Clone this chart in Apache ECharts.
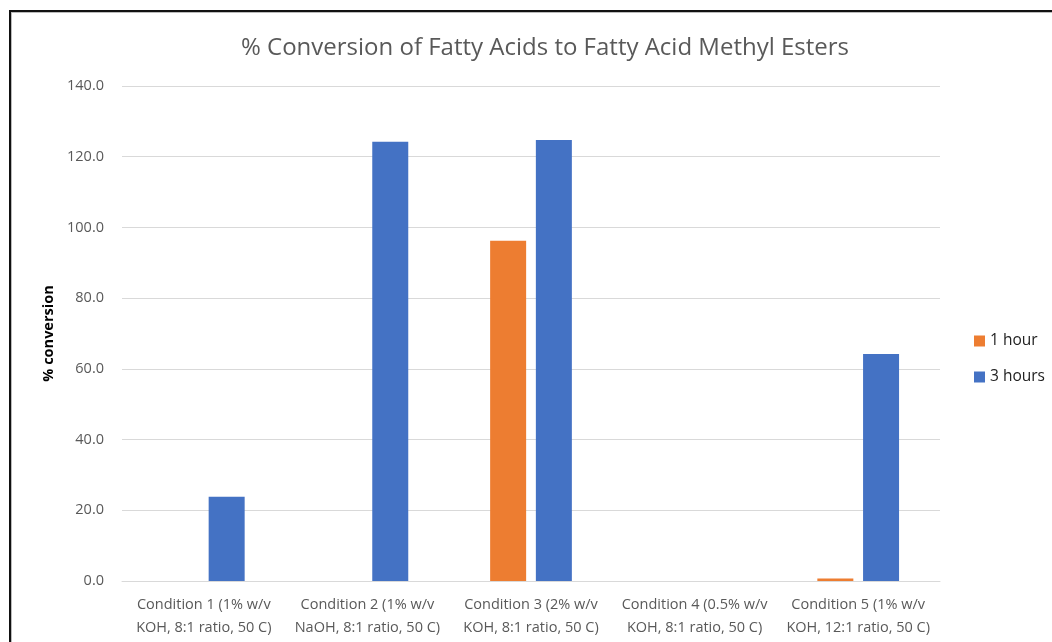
<!DOCTYPE html>
<html>
<head>
<meta charset="utf-8">
<script src="https://cdn.jsdelivr.net/npm/echarts@6/dist/echarts.min.js"></script>
<style>
  html, body { margin: 0; padding: 0; background: #fff; }
  #chart { width: 1052px; height: 642px; }
  #frame { position: absolute; left: 9px; top: 10px; width: 1100px; height: 700px;
           border-left: 2px solid #111; border-top: 2px solid #111;
           box-shadow: inset 1px 1px 0 #bbb; pointer-events: none; }
</style>
</head>
<body>
<div id="chart"></div>
<div id="frame"></div>
<script>
const categories = [
  'Condition 1 (1% w/v\nKOH, 8:1 ratio, 50 C)',
  'Condition 2 (1% w/v\nNaOH, 8:1 ratio, 50 C)',
  'Condition 3 (2% w/v\nKOH, 8:1 ratio, 50 C)',
  'Condition 4 (0.5% w/v\nKOH, 8:1 ratio, 50 C)',
  'Condition 5 (1% w/v\nKOH, 12:1 ratio, 50 C)'
];
const oneHour = [null, null, 96.2, null, 0.7];
const threeHours = [23.8, 124.2, 124.7, null, 64.2];

const chart = echarts.init(document.getElementById('chart'));
const gray = '#595959';
chart.setOption({
  animation: false,
  backgroundColor: '#fff',
  title: {
    text: '% Conversion of Fatty Acids to Fatty Acid Methyl Esters',
    left: 540, top: 31, textAlign: 'center',
    textStyle: { fontFamily: 'Open Sans', fontWeight: 'normal', fontSize: 24, color: gray }
  },
  legend: {
    orient: 'vertical', left: 969, top: 328, itemWidth: 11, itemHeight: 11, itemGap: 20,
    icon: 'rect',
    textStyle: { fontFamily: 'Open Sans', fontSize: 15.5, color: '#222' },
    data: ['1 hour', '3 hours']
  },
  grid: { left: 122, right: 112, top: 86, bottom: 61 },
  xAxis: {
    type: 'category', data: categories,
    axisLine: { lineStyle: { color: '#d9d9d9' } },
    axisTick: { show: false },
    axisLabel: { color: gray, fontFamily: 'Open Sans', fontSize: 14.5, lineHeight: 23, margin: 12, interval: 0 }
  },
  yAxis: {
    type: 'value', min: 0, max: 140, interval: 20,
    name: '% conversion', nameLocation: 'middle', nameGap: 66, nameRotate: 90,
    nameTextStyle: { fontFamily: 'Open Sans', fontWeight: 'bold', fontSize: 14.5, color: '#000' },
    axisLabel: { color: gray, fontFamily: 'Open Sans', fontSize: 14.5, margin: 18, formatter: v => v.toFixed(1) },
    splitLine: { lineStyle: { color: '#d9d9d9' } }
  },
  series: [
    { name: '1 hour', type: 'bar', data: oneHour, barWidth: 36, barGap: '27%',
      itemStyle: { color: '#ed7d31' } },
    { name: '3 hours', type: 'bar', data: threeHours, barWidth: 36, barGap: '27%',
      itemStyle: { color: '#4472c4' } }
  ]
});
</script>
</body>
</html>
